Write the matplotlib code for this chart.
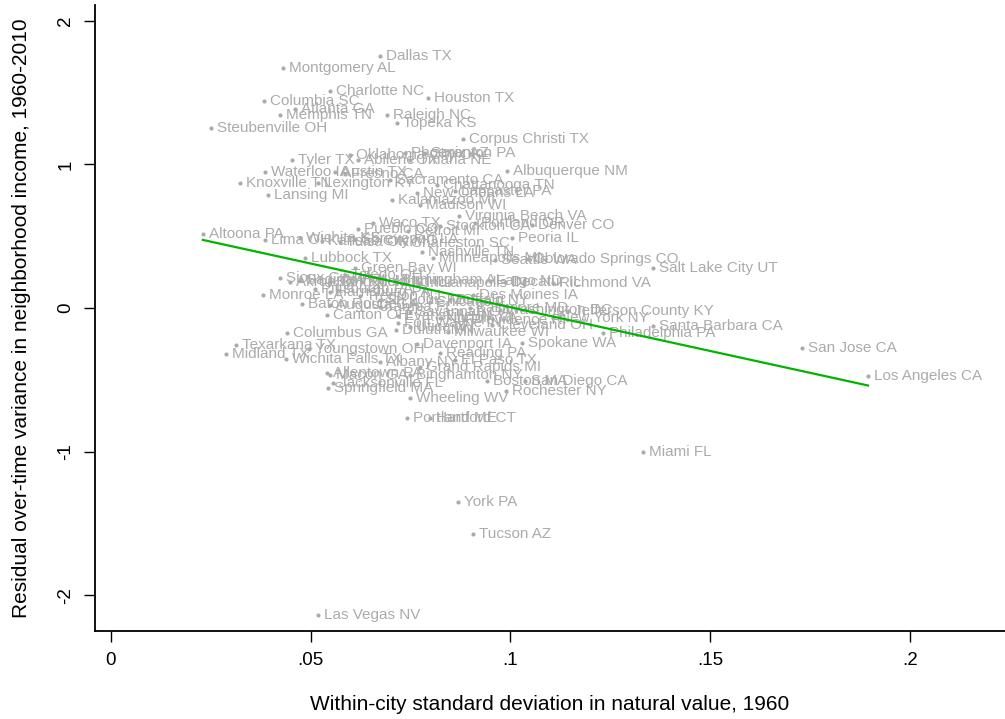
import matplotlib
matplotlib.use("Agg")
import matplotlib.pyplot as plt
import numpy as np

plt.rcParams['font.family'] = ['Liberation Sans', 'DejaVu Sans']

# city labels, within-city sd in 1960 (x) and residual variance (y)
cities = [
    "Dallas TX", "Montgomery AL", "Charlotte NC", "Houston TX", "Columbia SC",
    "Atlanta GA", "Memphis TN", "Raleigh NC", "Topeka KS", "Steubenville OH",
    "Corpus Christi TX", "Oklahoma City OK", "Phoenix AZ", "Scranton PA", "Tyler TX",
    "Abilene TX", "Omaha NE", "Albuquerque NM", "Waterloo IA", "Austin TX",
    "Fresno CA", "Knoxville TN", "Lexington KY", "Sacramento CA", "Chattanooga TN",
    "Lansing MI", "New Orleans LA", "Lancaster PA", "Kalamazoo MI", "Madison WI",
    "Virginia Beach VA", "Waco TX", "Stockton CA", "Portland OR", "Denver CO",
    "Peoria IL", "Pueblo CO", "Detroit MI", "Charleston SC", "Altoona PA",
    "Lima OH", "Lubbock TX", "Nashville TN", "Minneapolis MN", "Seattle WA",
    "Colorado Springs CO", "Salt Lake City UT", "Green Bay WI", "Sioux City IA", "Richmond VA",
    "Fargo ND", "Des Moines IA", "Decatur IL", "Birmingham AL", "Monroe LA",
    "Pittsburgh PA", "Baton Rouge LA", "Canton OH", "Columbus GA", "Duluth MN",
    "Milwaukee WI", "Evansville IN", "Cleveland OH", "Jefferson County KY", "New York NY",
    "Santa Barbara CA", "Philadelphia PA", "San Jose CA", "Los Angeles CA", "Spokane WA",
    "Davenport IA", "Texarkana TX", "Midland TX", "Youngstown OH", "Wichita Falls TX",
    "Albany NY", "Reading PA", "El Paso TX", "Grand Rapids MI", "Binghamton NY",
    "Allentown PA", "Macon GA", "Jacksonville FL", "Springfield MA", "Wheeling WV",
    "Boston MA", "San Diego CA", "Rochester NY", "Portland ME", "Hartford CT",
    "Miami FL", "York PA", "Tucson AZ", "Las Vegas NV", "Fort Wayne IN",
    "Wichita KS", "Kansas City MO", "Tulsa OK", "Shreveport LA", "Toledo OH",
    "Saginaw MI", "Akron OH", "Springfield IL", "Rockford IL", "Indianapolis IN",
    "Harrisburg PA", "Trenton NJ", "St. Louis MO", "Chicago IL", "Buffalo NY",
    "Baltimore MD", "Washington DC", "Augusta GA", "Tampa FL", "Savannah GA",
    "Norfolk VA", "Providence RI", "Utica NY",
]
x_sd = [
    0.0673, 0.0431, 0.0548, 0.0793, 0.0383,
    0.0461, 0.0423, 0.0691, 0.0716, 0.0250,
    0.0881, 0.0598, 0.0736, 0.0786, 0.0453,
    0.0618, 0.0748, 0.0991, 0.0385, 0.0561,
    0.0586, 0.0323, 0.0518, 0.0698, 0.0816,
    0.0393, 0.0766, 0.0861, 0.0703, 0.0773,
    0.0871, 0.0656, 0.0824, 0.0911, 0.1054,
    0.1004, 0.0618, 0.0743, 0.0736, 0.0230,
    0.0385, 0.0486, 0.0778, 0.0806, 0.0961,
    0.1044, 0.1357, 0.0611, 0.0423, 0.1106,
    0.0949, 0.0906, 0.0986, 0.0711, 0.0380,
    0.0511, 0.0478, 0.0541, 0.0441, 0.0713,
    0.0844, 0.0718, 0.0954, 0.1144, 0.1106,
    0.1357, 0.1232, 0.1730, 0.1895, 0.1029,
    0.0766, 0.0313, 0.0288, 0.0496, 0.0438,
    0.0673, 0.0824, 0.0861, 0.0773, 0.0748,
    0.0541, 0.0548, 0.0556, 0.0543, 0.0748,
    0.0941, 0.1036, 0.0989, 0.0741, 0.0798,
    0.1332, 0.0869, 0.0906, 0.0518, 0.0718,
    0.0473, 0.0528, 0.0573, 0.0611, 0.0586,
    0.0473, 0.0448, 0.0548, 0.0628, 0.0773,
    0.0548, 0.0623, 0.0673, 0.0798, 0.0848,
    0.0898, 0.0973, 0.0548, 0.0673, 0.0748,
    0.0823, 0.0885, 0.0748,
]
y_resid = [
    1.756, 1.672, 1.512, 1.463, 1.443,
    1.387, 1.345, 1.345, 1.289, 1.254,
    1.178, 1.066, 1.080, 1.080, 1.031,
    1.031, 1.031, 0.955, 0.948, 0.948,
    0.934, 0.871, 0.871, 0.892, 0.857,
    0.787, 0.801, 0.815, 0.753, 0.718,
    0.641, 0.592, 0.571, 0.592, 0.578,
    0.488, 0.551, 0.537, 0.453, 0.516,
    0.474, 0.348, 0.390, 0.348, 0.334,
    0.341, 0.279, 0.279, 0.209, 0.174,
    0.188, 0.091, 0.181, 0.195, 0.091,
    0.132, 0.028, -0.049, -0.174, -0.153,
    -0.167, -0.056, -0.118, -0.021, -0.070,
    -0.125, -0.174, -0.279, -0.474, -0.244,
    -0.251, -0.258, -0.321, -0.286, -0.355,
    -0.376, -0.314, -0.362, -0.411, -0.467,
    -0.453, -0.467, -0.523, -0.557, -0.627,
    -0.509, -0.509, -0.578, -0.767, -0.767,
    -1.003, -1.352, -1.575, -2.139, -0.105,
    0.488, 0.467, 0.460, 0.481, 0.230,
    0.195, 0.181, 0.181, 0.181, 0.174,
    0.112, 0.084, 0.056, 0.042, 0.056,
    0.000, -0.014, 0.021, 0.007, -0.028,
    -0.070, -0.084, -0.132,
]

# linear fit shown in green
fit_intercept = 0.614
fit_slope = -6.09

x_ticks = [0, 0.05, 0.1, 0.15, 0.2]
x_tick_labels = ["0", ".05", ".1", ".15", ".2"]
y_ticks = [-2, -1, 0, 1, 2]
y_tick_labels = ["-2", "-1", "0", "1", "2"]

gray = "#ababab"

fig = plt.figure(figsize=(10.05, 7.19), dpi=100)
ax = fig.add_axes([0.0945, 0.1224, 0.9055, 0.8706])

ax.scatter(x_sd, y_resid, s=9, color=gray, linewidths=0, zorder=2)
for name, xv, yv in zip(cities, x_sd, y_resid):
    ax.annotate(name, (xv, yv), xytext=(4.5, 0), textcoords="offset points",
                ha="left", va="center", fontsize=11, color=gray, zorder=2)

xs = np.array([min(x_sd), max(x_sd)])
ax.plot(xs, fit_intercept + fit_slope * xs, color="#00b400", lw=1.6, zorder=3)

ax.set_xlim(-0.004, 0.2238)
ax.set_ylim(-2.25, 2.11)
ax.set_xticks(x_ticks)
ax.set_xticklabels(x_tick_labels)
ax.set_yticks(y_ticks)
ax.set_yticklabels(y_tick_labels, rotation=90, va="center")

for side in ["top", "right"]:
    ax.spines[side].set_visible(False)
for side in ["left", "bottom"]:
    ax.spines[side].set_linewidth(1.3)

ax.tick_params(axis="both", direction="out", length=8, width=1.0,
               labelsize=13.5, pad=7)
ax.set_xlabel("Within-city standard deviation in natural value, 1960",
              fontsize=15, labelpad=19)
ax.set_ylabel("Residual over-time variance in neighborhood income, 1960-2010",
              fontsize=15, labelpad=19)

fig.savefig("out.png", dpi=100)
